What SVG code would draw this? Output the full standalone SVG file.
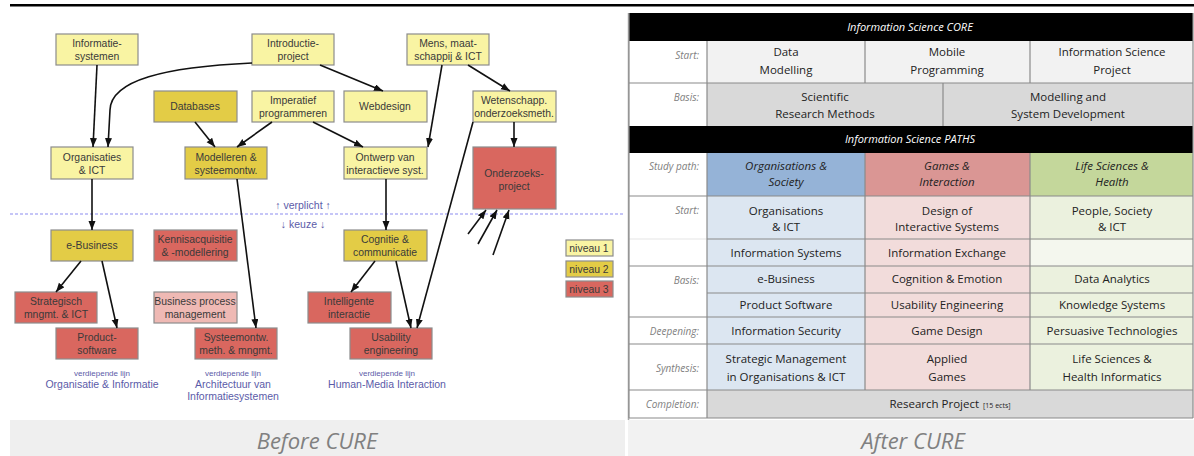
<svg xmlns="http://www.w3.org/2000/svg" width="1194" height="456" viewBox="0 0 1194 456">
<style>
.n rect{stroke:#8c8c8c;stroke-width:1.2}
.l1{fill:#f9f4a3}
.l2{fill:#e3cc46}
.l3{fill:#d9675f}
.lp{fill:#efb9b4}
.n text{font-family:"Liberation Sans",Arial,sans-serif;font-size:10.4px;fill:#3a3a3a;text-anchor:middle}
.c path{fill:none;stroke:#111;stroke-width:1.6}
.lbl{font-family:"Liberation Sans",Arial,sans-serif;fill:#5b5ba8;text-anchor:middle}
.sm{font-size:8px}
.md{font-size:10.5px}
.cap{font-family:"Open Sans",sans-serif;font-style:italic;font-size:22px;fill:#808080;text-anchor:middle}
.t text{font-family:"Open Sans",sans-serif;font-size:11.5px;fill:#222;text-anchor:middle}
.t .hd{fill:#fff;font-style:italic;font-size:11px}
.t .rl{fill:#808080;font-style:italic;font-size:10px;text-anchor:end}
.t .it{font-style:italic}
.g{stroke:#8a8a8a;stroke-width:1.2}
</style>
<defs>
<marker id="ah" markerUnits="userSpaceOnUse" markerWidth="10" markerHeight="8" refX="9" refY="3.5" orient="auto">
<path d="M0,0 L9,3.5 L0,7 z" fill="#111"/>
</marker>
</defs>
<rect width="1194" height="456" fill="#fff"/>
<rect x="10" y="4" width="1184" height="2.5" fill="#000"/>
<rect x="10" y="420" width="615" height="36" fill="#efefef"/>
<rect x="628" y="420" width="566" height="36" fill="#f2f2f2"/>
<line x1="628.5" y1="13" x2="628.5" y2="420" stroke="#a8a8a8" stroke-width="1.5"/>
<text class="cap" x="317" y="449">Before CURE</text>
<text class="cap" x="913" y="449">After CURE</text>

<line x1="10" y1="214" x2="625" y2="214" stroke="#8c8cf0" stroke-width="1.2" stroke-dasharray="3,2"/>
<text class="lbl md" x="303" y="209">↑ verplicht ↑</text>
<text class="lbl md" x="303" y="228">↓ keuze  ↓</text>

<g id="informatiesystemen" class="n"><rect class="l1" x="56" y="34" width="82" height="31"/><text x="97" y="47">Informatie-</text><text x="97" y="60">systemen</text></g>
<g id="introductieproject" class="n"><rect class="l1" x="252" y="34" width="82" height="31"/><text x="293" y="47">Introductie-</text><text x="293" y="60">project</text></g>
<g id="mens" class="n"><rect class="l1" x="407" y="34" width="82" height="31"/><text x="448" y="47">Mens, maat-</text><text x="448" y="60">schappij &amp; ICT</text></g>
<g id="databases" class="n"><rect class="l2" x="154" y="91" width="83" height="31"/><text x="195" y="110">Databases</text></g>
<g id="imperatief" class="n"><rect class="l1" x="252" y="91" width="82" height="31"/><text x="293" y="104">Imperatief</text><text x="293" y="117">programmeren</text></g>
<g id="webdesign" class="n"><rect class="l1" x="344" y="91" width="83" height="31"/><text x="385" y="110">Webdesign</text></g>
<g id="wetenschapp" class="n"><rect class="l1" x="473" y="91" width="83" height="31"/><text x="514" y="104">Wetenschapp.</text><text x="514" y="117">onderzoeksmeth.</text></g>
<g id="organisaties" class="n"><rect class="l1" x="51" y="147" width="82" height="32"/><text x="92" y="161">Organisaties</text><text x="92" y="174">&amp; ICT</text></g>
<g id="modelleren" class="n"><rect class="l2" x="185" y="147" width="82" height="32"/><text x="226" y="161">Modelleren &amp;</text><text x="226" y="174">systeemontw.</text></g>
<g id="ontwerp" class="n"><rect class="l1" x="344" y="147" width="83" height="32"/><text x="385" y="161">Ontwerp van</text><text x="385" y="174">interactieve syst.</text></g>
<g id="onderzoeksproject" class="n"><rect class="l3" x="473" y="147" width="83" height="62"/><text x="514" y="177">Onderzoeks-</text><text x="514" y="190">project</text></g>
<g id="ebusiness" class="n"><rect class="l2" x="51" y="230" width="82" height="31"/><text x="92" y="249">e-Business</text></g>
<g id="kennisacquisitie" class="n"><rect class="l3" x="154" y="230" width="83" height="31"/><text x="195" y="243">Kennisacquisitie</text><text x="195" y="256">&amp; -modellering</text></g>
<g id="cognitie" class="n"><rect class="l2" x="344" y="230" width="83" height="31"/><text x="385" y="243">Cognitie &amp;</text><text x="385" y="256">communicatie</text></g>
<g id="strategisch" class="n"><rect class="l3" x="15" y="292" width="82" height="31"/><text x="56" y="305">Strategisch</text><text x="56" y="318">mngmt. &amp; ICT</text></g>
<g id="businessprocess" class="n"><rect class="lp" x="154" y="292" width="83" height="31"/><text x="195" y="305">Business process</text><text x="195" y="318">management</text></g>
<g id="intelligente" class="n"><rect class="l3" x="308" y="292" width="83" height="31"/><text x="349" y="305">Intelligente</text><text x="349" y="318">interactie</text></g>
<g id="productsoftware" class="n"><rect class="l3" x="56" y="328" width="82" height="31"/><text x="97" y="341">Product-</text><text x="97" y="354">software</text></g>
<g id="systeemontw" class="n"><rect class="l3" x="195" y="328" width="82" height="31"/><text x="236" y="341">Systeemontw.</text><text x="236" y="354">meth. &amp; mngmt.</text></g>
<g id="usability" class="n"><rect class="l3" x="350" y="328" width="82" height="31"/><text x="391" y="341">Usability</text><text x="391" y="354">engineering</text></g>

<g id="legend" class="n">
<rect class="l1" x="566" y="240" width="47" height="16"/><text x="589" y="252">niveau 1</text>
<rect class="l2" x="566" y="261" width="47" height="16"/><text x="589" y="273">niveau 2</text>
<rect class="l3" x="566" y="281" width="47" height="16"/><text x="589" y="293">niveau 3</text>
</g>

<g id="lines-labels">
<text class="lbl sm" x="102" y="376">verdiepende lijn</text>
<text class="lbl md" x="102" y="388">Organisatie &amp; Informatie</text>
<text class="lbl sm" x="233" y="376">verdiepende lijn</text>
<text class="lbl md" x="233" y="388">Architectuur van</text>
<text class="lbl md" x="233" y="400">Informatiesystemen</text>
<text class="lbl sm" x="387" y="376">verdiepende lijn</text>
<text class="lbl md" x="387" y="388">Human-Media Interaction</text>
</g>

<g id="connectors" class="c">
<path d="M97,65 L93,147" marker-end="url(#ah)"/>
<path d="M252,63 C165,67 111,80 110,110 L108,147" marker-end="url(#ah)"/>
<path d="M320,65 L383,91" marker-end="url(#ah)"/>
<path d="M442,65 L428,147" marker-end="url(#ah)"/>
<path d="M468,65 L510,91" marker-end="url(#ah)"/>
<path d="M514,122 L514,147" marker-end="url(#ah)"/>
<path d="M195,122 L215,147" marker-end="url(#ah)"/>
<path d="M272,122 L237,147" marker-end="url(#ah)"/>
<path d="M313,122 L363,147" marker-end="url(#ah)"/>
<path d="M92,179 L92,230" marker-end="url(#ah)"/>
<path d="M237,179 L256,328" marker-end="url(#ah)"/>
<path d="M386,179 L386,230" marker-end="url(#ah)"/>
<path d="M473,122 L417,328" marker-end="url(#ah)"/>
<path d="M81,261 L56,292" marker-end="url(#ah)"/>
<path d="M102,261 L117,328" marker-end="url(#ah)"/>
<path d="M375,261 L351,292" marker-end="url(#ah)"/>
<path d="M396,261 L411,328" marker-end="url(#ah)"/>
<path d="M468,234 L486,210" marker-end="url(#ah)"/>
<path d="M478,244 L497,210" marker-end="url(#ah)"/>
<path d="M493,255 L509,210" marker-end="url(#ah)"/>
</g>

<g id="table" class="t">
<rect x="629" y="13" width="564" height="28" fill="#000"/>
<text class="hd" x="910" y="31">Information Science CORE</text>
<rect x="629" y="41" width="78" height="85" fill="#fff"/>
<rect x="707" y="41" width="486" height="42" fill="#f2f2f2"/>
<rect x="707" y="83" width="486" height="43" fill="#d9d9d9"/>
<rect x="629" y="126" width="564" height="27" fill="#000"/>
<text class="hd" x="910" y="143">Information Science PATHS</text>
<rect x="629" y="153" width="78" height="237" fill="#fff"/>
<rect x="707" y="153" width="158" height="43" fill="#95b3d7"/>
<rect x="865" y="153" width="165" height="43" fill="#da9694"/>
<rect x="1030" y="153" width="163" height="43" fill="#c4d79b"/>
<rect x="707" y="196" width="158" height="194" fill="#dce6f1"/>
<rect x="865" y="196" width="165" height="194" fill="#f2dcdb"/>
<rect x="1030" y="196" width="163" height="194" fill="#ebf1de"/>
<rect x="1030" y="240" width="163" height="26" fill="#f4f7ee"/>
<rect x="629" y="390" width="78" height="28" fill="#fff"/>
<rect x="707" y="390" width="486" height="28" fill="#d9d9d9"/>

<g class="g">
<line x1="629" y1="83" x2="1193" y2="83"/>
<line x1="629" y1="196" x2="1193" y2="196"/>
<line x1="629" y1="239" x2="707" y2="239" stroke="#e6e6e6"/>
<line x1="707" y1="239" x2="1193" y2="239"/>
<line x1="629" y1="266" x2="1193" y2="266"/>
<line x1="707" y1="293" x2="1193" y2="293"/>
<line x1="629" y1="317" x2="1193" y2="317"/>
<line x1="629" y1="344" x2="1193" y2="344"/>
<line x1="629" y1="390" x2="1193" y2="390"/>
<line x1="629" y1="418" x2="1193" y2="418"/>
<line x1="707" y1="41" x2="707" y2="126"/>
<line x1="707" y1="153" x2="707" y2="418"/>
<line x1="865" y1="41" x2="865" y2="83"/>
<line x1="1030" y1="41" x2="1030" y2="83"/>
<line x1="943" y1="83" x2="943" y2="126"/>
<line x1="865" y1="153" x2="865" y2="390"/>
<line x1="1030" y1="153" x2="1030" y2="390"/>
<line x1="629" y1="13" x2="629" y2="418"/>
<line x1="1193" y1="13" x2="1193" y2="418"/>
</g>

<text class="rl" x="699" y="59">Start:</text>
<text class="rl" x="699" y="101">Basis:</text>
<text class="rl" x="699" y="170">Study path:</text>
<text class="rl" x="699" y="214">Start:</text>
<text class="rl" x="699" y="284">Basis:</text>
<text class="rl" x="699" y="335">Deepening:</text>
<text class="rl" x="699" y="372">Synthesis:</text>
<text class="rl" x="699" y="408">Completion:</text>

<text x="786" y="56">Data</text><text x="786" y="74">Modelling</text>
<text x="947" y="56">Mobile</text><text x="947" y="74">Programming</text>
<text x="1112" y="56">Information Science</text><text x="1112" y="74">Project</text>
<text x="825" y="101">Scientific</text><text x="825" y="118">Research Methods</text>
<text x="1068" y="101">Modelling and</text><text x="1068" y="118">System Development</text>

<text class="it" x="786" y="170">Organisations &amp;</text><text class="it" x="786" y="186">Society</text>
<text class="it" x="947" y="170">Games &amp;</text><text class="it" x="947" y="186">Interaction</text>
<text class="it" x="1112" y="170">Life Sciences &amp;</text><text class="it" x="1112" y="186">Health</text>

<text x="786" y="215">Organisations</text><text x="786" y="231">&amp; ICT</text>
<text x="947" y="215">Design of</text><text x="947" y="231">Interactive Systems</text>
<text x="1112" y="215">People, Society</text><text x="1112" y="231">&amp; ICT</text>

<text x="786" y="257">Information Systems</text>
<text x="947" y="257">Information Exchange</text>

<text x="786" y="283">e-Business</text>
<text x="947" y="283">Cognition &amp; Emotion</text>
<text x="1112" y="283">Data Analytics</text>

<text x="786" y="309">Product Software</text>
<text x="947" y="309">Usability Engineering</text>
<text x="1112" y="309">Knowledge Systems</text>

<text x="786" y="335">Information Security</text>
<text x="947" y="335">Game Design</text>
<text x="1112" y="335">Persuasive Technologies</text>

<text x="786" y="363">Strategic Management</text><text x="786" y="381">in Organisations &amp; ICT</text>
<text x="947" y="363">Applied</text><text x="947" y="381">Games</text>
<text x="1112" y="363">Life Sciences &amp;</text><text x="1112" y="381">Health Informatics</text>

<text x="950" y="408">Research Project<tspan font-size="7px" dx="4">[15 ects]</tspan></text>
</g>
</svg>
